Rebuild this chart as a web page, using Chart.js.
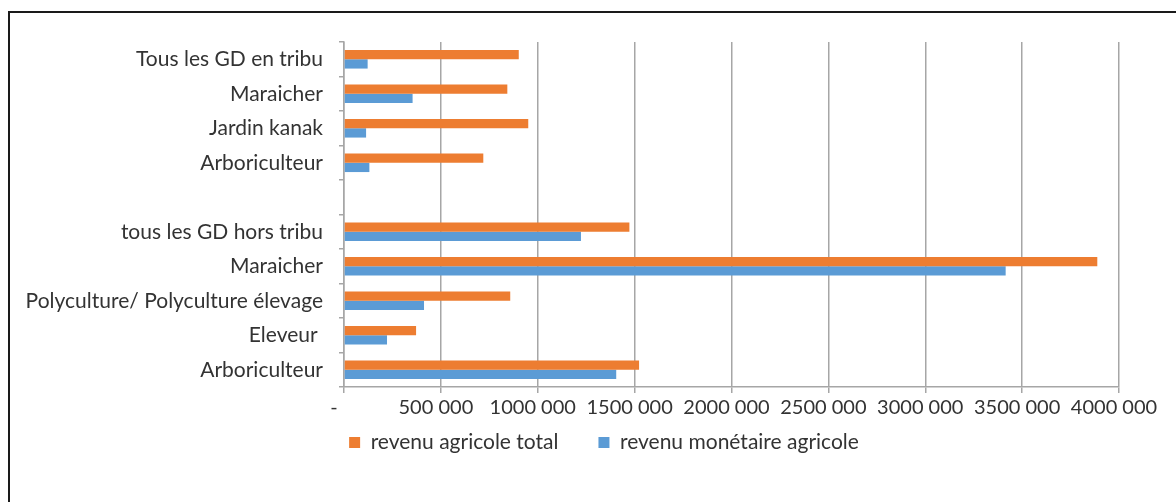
<!DOCTYPE html>
<html>
<head>
<meta charset="utf-8">
<script src="https://cdn.jsdelivr.net/npm/chart.js@4"></script>
<style>
  html, body { margin: 0; padding: 0; background: #fff; overflow: hidden; }
  #frame { position: absolute; left: 8px; top: 11px; width: 1220px; height: 560px; border: 2px solid #1a1a1a; }
  #wrap { position: absolute; left: 9px; top: 12px; width: 1192px; height: 560px; }
</style>
</head>
<body>
<div id="frame"></div>
<div id="wrap"><canvas id="plots"></canvas></div>
<script>
// Categories, top to bottom (blank row separates the two groups)
var groupes = ["Tous les GD en tribu", "Maraicher", "Jardin kanak", "Arboriculteur", "",
               "tous les GD hors tribu", "Maraicher", "Polyculture/ Polyculture élevage", "Eleveur ", "Arboriculteur"];
// Income per farm type
var revenuTotal = [902000, 843000, 951000, 719000, null, 1473000, 3888000, 858000, 372000, 1523000];
var revenuMonetaire = [122000, 354000, 114000, 131000, null, 1223000, 3415000, 413000, 222000, 1405000];
// X axis range
var xMin = 0, xMax = 4000000, xStep = 500000;

Chart.defaults.font.family = "Lato, 'Open Sans', sans-serif";
Chart.defaults.font.size = 20;
Chart.defaults.color = '#333333';

var gris = '#a6a6a6';

// "-" for zero, otherwise thousands with a single space before the last group
function formatMontant(v) {
    if (v === 0) return '-\u2002';
    return (v / 1000) + ' 000';
}

// legend sits centred on the whole frame, close under the axis labels
var placeLegende = {
    id: 'placeLegende',
    afterLayout: function (chart) {
        var lg = chart.legend;
        var dx = 595 - (lg.left + lg.right) / 2;
        lg.left += dx;
        lg.right += dx;
        lg.top -= 31;
        lg.bottom -= 31;
    }
};

plots = document.getElementById("plots");
new Chart(plots, {
    type: 'bar',
    data: {
        labels: groupes,
        datasets: [{
            label: 'revenu agricole total',
            data: revenuTotal,
            backgroundColor: '#ed7d31',
            categoryPercentage: 0.54,
            barPercentage: 1
        }, {
            label: 'revenu monétaire agricole',
            data: revenuMonetaire,
            backgroundColor: '#5b9bd5',
            categoryPercentage: 0.54,
            barPercentage: 1
        }]
    },
    options: {
        indexAxis: 'y',
        responsive: true,
        maintainAspectRatio: false,
        animation: false,
        layout: { padding: { top: 30, left: 0, right: 82, bottom: 78 } },
        scales: {
            x: {
                min: xMin,
                max: xMax,
                grid: { color: gris, lineWidth: 1.5, tickLength: 6 },
                border: { color: gris, width: 1.5 },
                ticks: { stepSize: xStep, padding: 3, labelOffset: -5, callback: formatMontant, maxRotation: 0 }
            },
            y: {
                grid: { offset: true, drawOnChartArea: false, color: gris, lineWidth: 1.5, tickLength: 5 },
                border: { color: gris, width: 1.5 },
                ticks: { padding: 16, autoSkip: false, font: { size: 21 } },
                afterFit: function (scale) { scale.width = 335; }
            }
        },
        plugins: {
            legend: {
                position: 'bottom',
                labels: { boxWidth: 11, boxHeight: 11, padding: 40, font: { size: 21 } }
            },
            tooltip: { enabled: false }
        }
    },
    plugins: [placeLegende]
});
</script>
</body>
</html>
